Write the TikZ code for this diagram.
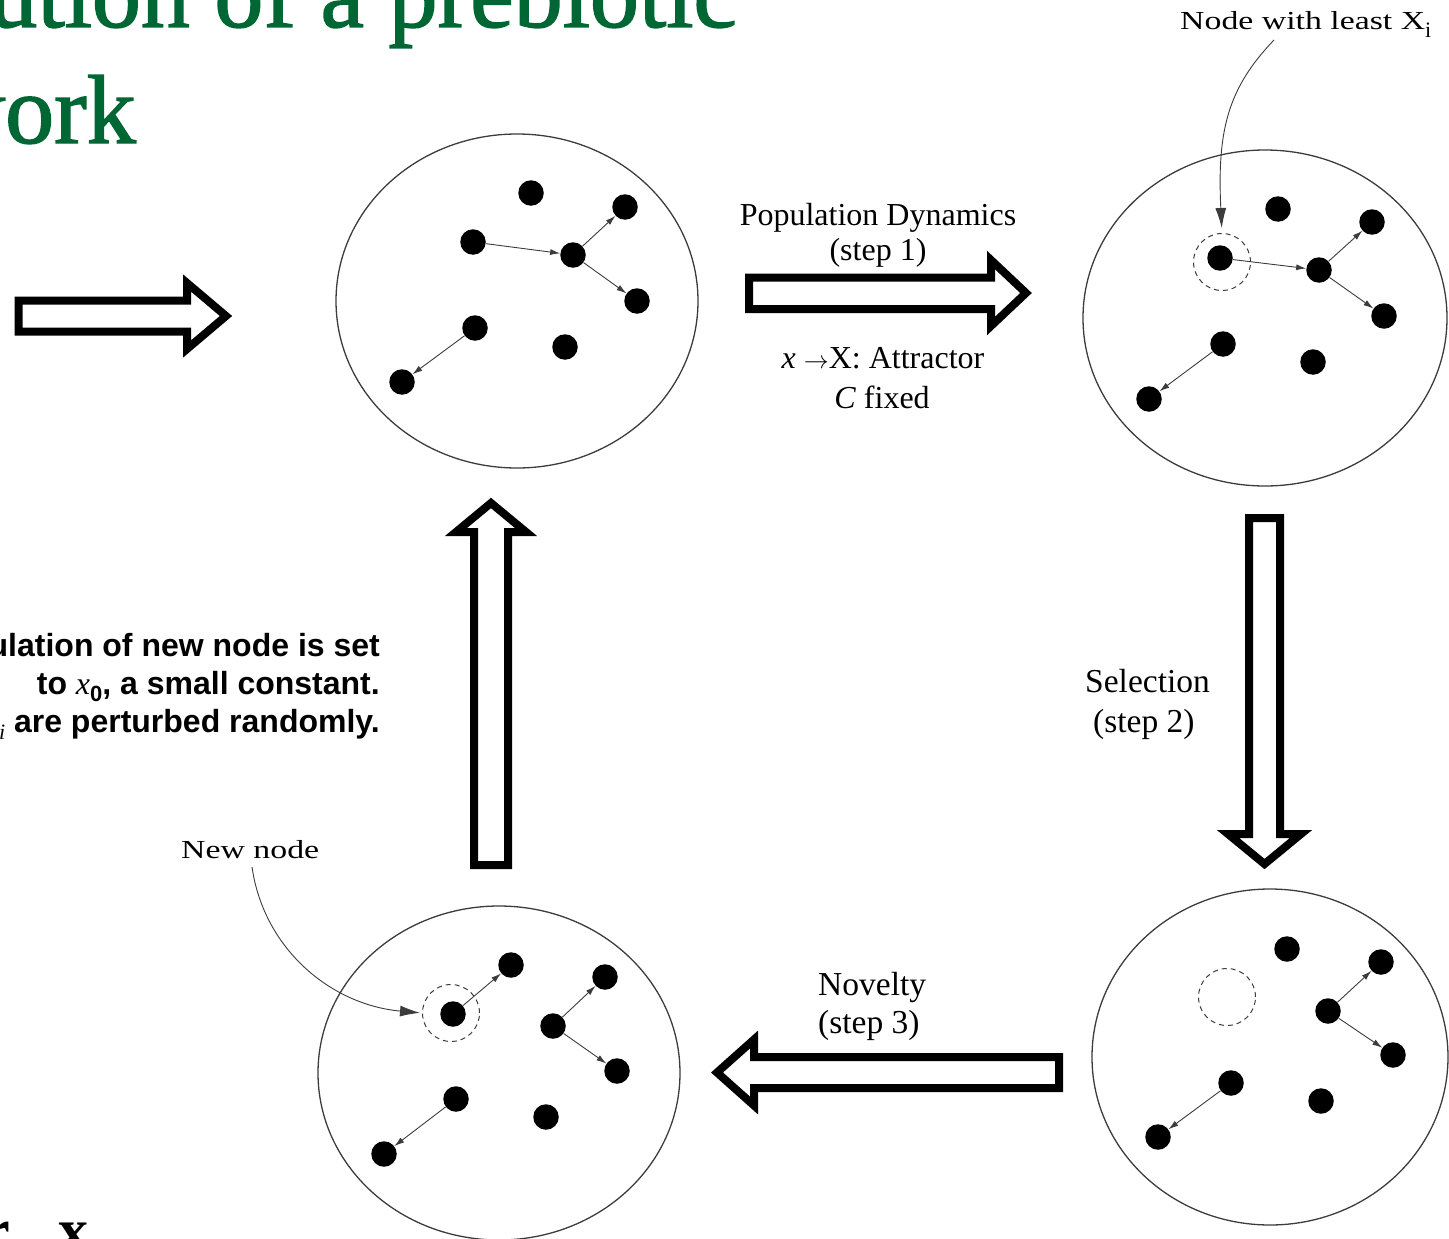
\documentclass[tikz,border=0pt]{standalone}
\usepackage{fontspec}
\setmainfont{Liberation Serif}
\setsansfont{Liberation Sans}
\newfontfamily\titlefont[FakeBold=1.5]{Liberation Serif}
\usetikzlibrary{arrows.meta}

\definecolor{titlegreen}{RGB}{0,102,51}
\definecolor{rim}{RGB}{60,60,60}

\tikzset{
  dot/.style={circle,fill=black,inner sep=0pt,minimum size=25.5pt},
  halo/.style={circle,draw=rim,dash pattern=on 5pt off 4pt,line width=1pt,inner sep=0pt,minimum size=57pt},
  link/.style={line width=0.9pt,draw=rim,-{Latex[length=10pt,width=6pt]}},
  cell/.style={draw=rim,line width=1.3pt},
  fat/.style={draw=black,line width=8pt,line join=miter,fill=white},
  pointer/.style={draw=rim,line width=0.9pt,-{Latex[length=20pt,width=11pt]}},
  lbl/.style={inner sep=0pt,font=\fontsize{32}{38}\selectfont},
  lblw/.style={inner sep=0pt,font=\fontsize{33.5}{38}\selectfont},
  wide/.style={inner sep=0pt,font=\fontsize{26}{30}\selectfont},
  note/.style={inner sep=0pt,font=\sffamily\bfseries\fontsize{32}{38}\selectfont},
  title/.style={inner sep=0pt,text=titlegreen,font=\titlefont\fontsize{98}{100}\selectfont},
}

\begin{document}
\begin{tikzpicture}[x=1pt,y=-1pt]
\useasboundingbox (0,0) rectangle (1449,1239);
\clip (0,0) rectangle (1449,1239);

% slide title
\node[title,anchor=base east] (t1) at (737,27) {Evolution of a prebiotic};
\node[title,anchor=base east] (t2) at (136,143) {network};

% side note
\node[note,anchor=base east] (n1) at (380,656) {Population of new node is set};
\node[note,anchor=base east] (n2) at (380,694) {to {\rmfamily\mdseries\itshape x}\raisebox{-0.22em}{\fontsize{22}{22}\selectfont 0}, a small constant.};
\node[note,anchor=base east] (n3) at (380,732) {{\rmfamily\mdseries\itshape C}\raisebox{-0.22em}{\fontsize{22}{22}\selectfont\rmfamily\mdseries\itshape i} are perturbed randomly.};

% fragments of a cut-off line
\node[inner sep=0pt,anchor=base west,font=\bfseries\fontsize{60}{60}\selectfont] (f1) at (-17,1250) {r};
\node[inner sep=0pt,anchor=base west,font=\bfseries\fontsize{60}{60}\selectfont] (f2) at (58,1250) {x};

% entry arrow
\draw[fat] (18.5,300.5) -- (187,300.5) -- (187,283) -- (226,316) -- (187,349) -- (187,331.5) -- (18.5,331.5) -- cycle;

% ---------- network 1 (top left)
\coordinate (o1) at (517,301);
\draw[cell] (o1) ellipse [x radius=181, y radius=167];
\node[dot] (a1) at (531,193) {};
\node[dot] (a2) at (625,207) {};
\node[dot] (a3) at (473,242) {};
\node[dot] (a4) at (573,255) {};
\node[dot] (a5) at (637,301) {};
\node[dot] (a6) at (475,328) {};
\node[dot] (a7) at (565,347) {};
\node[dot] (a8) at (402,382) {};
\draw[link] (a3) -- (a4);
\draw[link] (a4) -- (a2);
\draw[link] (a4) -- (a5);
\draw[link] (a6) -- (a8);

% ---------- network 2 (top right)
\coordinate (o2) at (1265,318);
\draw[cell] (o2) ellipse [x radius=182, y radius=168];
\node[dot] (b1) at (1278,209) {};
\node[dot] (b2) at (1372,222) {};
\node[dot] (b3) at (1220,258) {};
\node[halo] (h1) at (1222,262) {};
\node[dot] (b4) at (1319,270) {};
\node[dot] (b5) at (1384,316) {};
\node[dot] (b6) at (1223,344) {};
\node[dot] (b7) at (1313,362) {};
\node[dot] (b8) at (1149,399) {};
\draw[link] (b3) -- (b4);
\draw[link] (b4) -- (b2);
\draw[link] (b4) -- (b5);
\draw[link] (b6) -- (b8);

% ---------- network 3 (bottom left)
\coordinate (o3) at (499,1073);
\draw[cell] (o3) ellipse [x radius=181, y radius=167];
\node[dot] (c1) at (511,965) {};
\node[dot] (c2) at (453,1014) {};
\node[halo] (h3) at (451,1013) {};
\node[dot] (c3) at (605,977) {};
\node[dot] (c4) at (553,1026) {};
\node[dot] (c5) at (617,1071) {};
\node[dot] (c6) at (456,1099) {};
\node[dot] (c7) at (546,1117) {};
\node[dot] (c8) at (384,1154) {};
\draw[link] (c2) -- (c1);
\draw[link] (c4) -- (c3);
\draw[link] (c4) -- (c5);
\draw[link] (c6) -- (c8);

% ---------- network 4 (bottom right)
\coordinate (o4) at (1270,1057);
\draw[cell] (o4) ellipse [x radius=178, y radius=168];
\node[dot] (d1) at (1287,949) {};
\node[dot] (d2) at (1381,962) {};
\node[halo] (h4) at (1227,997) {};
\node[dot] (d4) at (1328,1011) {};
\node[dot] (d5) at (1393,1055) {};
\node[dot] (d6) at (1231,1083) {};
\node[dot] (d7) at (1321,1101) {};
\node[dot] (d8) at (1158,1137) {};
\draw[link] (d4) -- (d2);
\draw[link] (d4) -- (d5);
\draw[link] (d6) -- (d8);

% ---------- cycle arrows
\draw[fat] (749,277.5) -- (991,277.5) -- (991,260) -- (1026,293) -- (991,326) -- (991,309) -- (749,309) -- cycle;
\draw[fat] (1249,518) -- (1249,834) -- (1228,834) -- (1264.5,864) -- (1301,834) -- (1280,834) -- (1280,518) -- cycle;
\draw[fat] (1059,1057) -- (754,1057) -- (754,1039.5) -- (717,1072.5) -- (754,1105.5) -- (754,1088) -- (1059,1088) -- cycle;
\draw[fat] (474,865) -- (474,532) -- (456,532) -- (491,503) -- (526,532) -- (508,532) -- (508,865) -- cycle;

% ---------- labels
\node[lbl,anchor=base] (p1) at (878,225) {Population Dynamics};
\node[lbl,anchor=base] (p2) at (878,260) {(step 1)};
\node[lbl,anchor=base] (p3) at (883,368) {\textit{x} $\rightarrow$X: Attractor};
\node[lbl,anchor=base] (p4) at (882,408) {\textit{C} fixed};

\node[lblw,anchor=base west] (s1) at (1085,692) {Selection};
\node[lblw,anchor=base west] (s2) at (1093,732) {(step 2)};

\node[lblw,anchor=base west] (v1) at (818,995) {Novelty};
\node[lblw,anchor=base west] (v2) at (818,1033) {(step 3)};

\node[wide,anchor=base west] (lx) at (1180,30) {\scalebox{1.3}[1]{Node with least X}\raisebox{-0.28em}{\fontsize{22}{22}\selectfont i}};
\node[wide,anchor=base west] (ln) at (181,858) {\scalebox{1.3}[1]{New node}};

% ---------- pointers
\coordinate (lxs) at (1274,40);
\coordinate (lns) at (252,867);
\draw[pointer,shorten >=5pt] (lxs) .. controls (1228,88) and (1217,130) .. (h1.north);
\draw[pointer,shorten >=2pt] (lns) .. controls (264,950) and (332,1005) .. (h3.west);
\end{tikzpicture}
\end{document}
